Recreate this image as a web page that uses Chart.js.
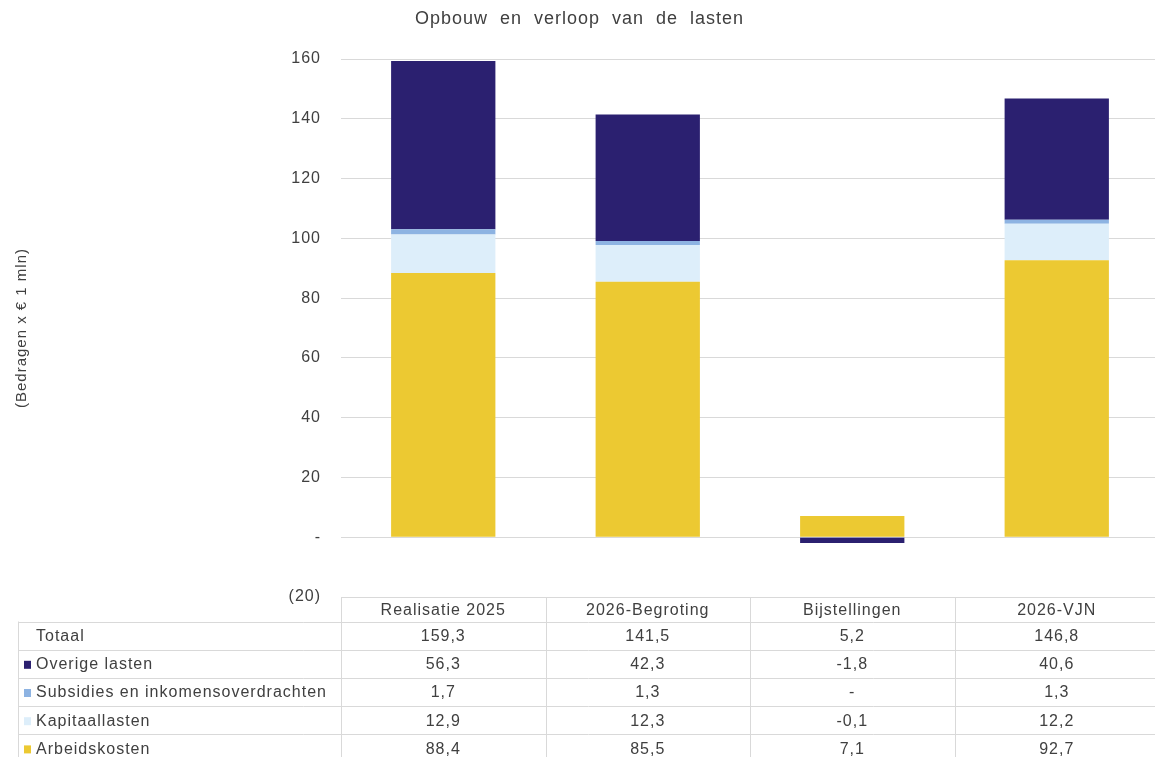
<!DOCTYPE html>
<html>
<head>
<meta charset="utf-8">
<script src="https://cdn.jsdelivr.net/npm/chart.js@4"></script>
<style>
  html, body { margin: 0; padding: 0; background: #fff; overflow: hidden; }
</style>
</head>
<body>
<canvas id="myChart" width="1159" height="757"></canvas>
<script>
// categories along the x-axis
var categories = ["Realisatie 2025", "2026-Begroting", "Bijstellingen", "2026-VJN"];
// series values (bedragen x 1 mln)
var arbeidskosten = [88.4, 85.5, 7.1, 92.7];
var kapitaallasten = [12.9, 12.3, -0.1, 12.2];
var subsidies = [1.7, 1.3, 0, 1.3];
var overigeLasten = [56.3, 42.3, -1.8, 40.6];
var totaal = [159.3, 141.5, 5.2, 146.8];
// y-axis ticks
var yMin = -20, yMax = 160, yStep = 20;

var font = "'Liberation Sans', Arial, sans-serif";
var textColor = "#404040";
var lineColor = "#d9d9d9";

function fmt(v) {
  if (v === 0) return "-";
  return v.toFixed(1).replace(".", ",");
}

// the excel text is set a bit wide
var spacingPlugin = {
  id: "spacing",
  beforeDraw: function(chart) { chart.ctx.letterSpacing = "1px"; }
};

// data table under the plot, drawn on the x scale's columns
var tablePlugin = {
  id: "dataTable",
  afterDraw: function(chart) {
    var ctx = chart.ctx;
    var xs = chart.scales.x;
    var area = chart.chartArea;
    var colW = (area.right - area.left) / categories.length;
    var top = area.bottom;
    var headBottom = 621.5;
    var rowH = 28.2;
    var tableLeft = 18;
    var right = chart.width;
    var rows = [
      { label: "Totaal", values: totaal, color: null },
      { label: "Overige lasten", values: overigeLasten, color: chart.data.datasets[3].backgroundColor },
      { label: "Subsidies en inkomensoverdrachten", values: subsidies, color: chart.data.datasets[2].backgroundColor },
      { label: "Kapitaallasten", values: kapitaallasten, color: chart.data.datasets[1].backgroundColor },
      { label: "Arbeidskosten", values: arbeidskosten, color: chart.data.datasets[0].backgroundColor }
    ];
    ctx.save();
    ctx.strokeStyle = lineColor;
    ctx.lineWidth = 1;
    // horizontal lines
    ctx.beginPath();
    ctx.moveTo(area.left, top + 0.5); ctx.lineTo(right, top + 0.5);
    for (var r = 0; r <= rows.length; r++) {
      var y = Math.round(headBottom + r * rowH) + 0.5;
      ctx.moveTo(tableLeft, y); ctx.lineTo(right, y);
    }
    // vertical lines
    ctx.moveTo(tableLeft + 0.5, headBottom); ctx.lineTo(tableLeft + 0.5, chart.height);
    for (var c = 0; c <= categories.length; c++) {
      var x = Math.round(area.left + c * colW) + 0.5;
      ctx.moveTo(x, top); ctx.lineTo(x, chart.height);
    }
    ctx.stroke();

    ctx.font = "16px " + font;
    ctx.letterSpacing = "1px";
    ctx.fillStyle = textColor;
    ctx.textBaseline = "middle";
    ctx.textAlign = "center";
    for (var i = 0; i < categories.length; i++) {
      ctx.fillText(categories[i], xs.getPixelForValue(i), (top + headBottom) / 2 + 1);
    }
    for (var r2 = 0; r2 < rows.length; r2++) {
      var cy = headBottom + r2 * rowH + rowH / 2 + 1;
      var row = rows[r2];
      ctx.textAlign = "left";
      if (row.color) {
        ctx.fillStyle = row.color;
        ctx.fillRect(24, cy - 4, 7, 8);
      }
      ctx.fillStyle = textColor;
      ctx.fillText(row.label, 36, cy);
      ctx.textAlign = "center";
      for (var j = 0; j < categories.length; j++) {
        ctx.fillText(fmt(row.values[j]), xs.getPixelForValue(j), cy);
      }
    }
    ctx.restore();
  }
};

var ctx = document.getElementById("myChart");
var myChart = new Chart(ctx, {
  type: "bar",
  data: {
    labels: categories,
    datasets: [
      { label: "Arbeidskosten", data: arbeidskosten, backgroundColor: "#ECC932" },
      { label: "Kapitaallasten", data: kapitaallasten, backgroundColor: "#DDEEFA" },
      { label: "Subsidies en inkomensoverdrachten", data: subsidies, backgroundColor: "#8DB3E2" },
      { label: "Overige lasten", data: overigeLasten, backgroundColor: "#2B2070" }
    ]
  },
  options: {
    responsive: false,
    animation: false,
    categoryPercentage: 1,
    barPercentage: 0.51,
    layout: { padding: { bottom: 160, right: 0, left: 0 } },
    plugins: {
      legend: { display: false },
      tooltip: { enabled: false },
      title: {
        display: true,
        text: "Opbouw  en  verloop  van  de  lasten",
        color: textColor,
        font: { family: font, size: 18, weight: "normal" },
        padding: { top: 8, bottom: 29.4 }
      }
    },
    scales: {
      x: {
        stacked: true,
        display: false
      },
      y: {
        stacked: true,
        min: yMin,
        max: yMax,
        border: { display: false },
        grid: { color: lineColor, drawTicks: false },
        ticks: {
          stepSize: yStep,
          padding: 20,
          color: textColor,
          font: { family: font, size: 16 },
          callback: function(v) {
            if (v === 0) return "-";
            if (v < 0) return "(" + (-v) + ")";
            return v;
          }
        },
        title: {
          display: true,
          text: "(Bedragen x \u20ac 1 mln)",
          color: textColor,
          font: { family: font, size: 15 },
          padding: { top: 13, bottom: 4 }
        },
        afterFit: function(scale) { scale.width = 341; }
      }
    }
  },
  plugins: [spacingPlugin, tablePlugin]
});
</script>
</body>
</html>
